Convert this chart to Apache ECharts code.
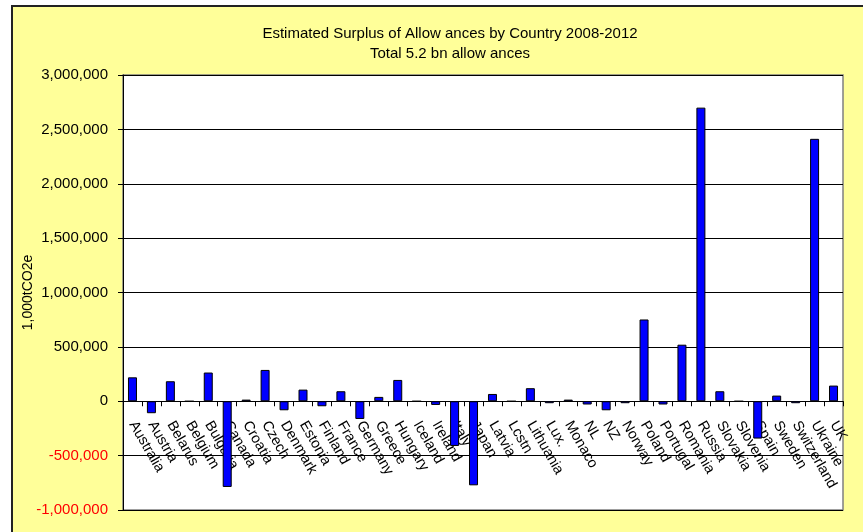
<!DOCTYPE html>
<html>
<head>
<meta charset="utf-8">
<script src="https://cdn.jsdelivr.net/npm/echarts@6/dist/echarts.min.js"></script>
<style>
html,body{margin:0;padding:0;background:#fff;}
#c{width:863px;height:532px;}
</style>
</head>
<body>
<div id="c"></div>
<script>
var countries = ["Australia","Austria","Belarus","Belgium","Bulgaria","Canada","Croatia","Czech","Denmark","Estonia","Finland","France","Germany","Greece","Hungary","Iceland","Ireland","Italy","Japan","Latvia","Lcstn","Lithuania","Lux.","Monaco","NL","NZ","Norway","Poland","Portugal","Romania","Russia","Slovakia","Slovenia","Spain","Sweden","Switzerland","Ukraine","UK"];
var surplus = [220000,-110000,184000,0,264000,-788000,15000,288000,-83000,107000,-46000,92000,-163000,40000,196000,0,-34000,-411000,-773000,67000,0,120000,-18000,15000,-30000,-83000,-18000,752000,-30000,520000,2700000,92000,0,-343000,52000,-18000,2413000,144000];
var titleLine1 = "Estimated Surplus of Allow ances by Country 2008-2012";
var titleLine2 = "Total 5.2 bn allow ances";
var yAxisName = "1,000tCO2e";
var yMin = -1000000, yMax = 3000000, yStep = 500000;

var FONT = '"Liberation Sans", Arial, sans-serif';
var GRID = {left: 123, right: 20, top: 75, bottom: 22};
var plotH = 532 - GRID.top - GRID.bottom;
var zeroOffset = -plotH * (0 - yMin) / (yMax - yMin);

var chart = echarts.init(document.getElementById('c'), null, {renderer:'canvas'});
chart.setOption({
  animation: false,
  backgroundColor: '#ffffff',
  graphic: [{
    type: 'rect', z: -100, silent: true,
    shape: {x: 12, y: 6, width: 870, height: 540},
    style: {fill: '#FFFF99', stroke: '#222', lineWidth: 2}
  }],
  title: [
    {text: titleLine1, left: 445, top: 21, textAlign: 'center',
     textStyle: {fontFamily: FONT, fontSize: 15, fontWeight: 'normal', color: '#000'}},
    {text: titleLine2, left: 445, top: 41, textAlign: 'center',
     textStyle: {fontFamily: FONT, fontSize: 15, fontWeight: 'normal', color: '#000'}}
  ],
  grid: {left: GRID.left, right: GRID.right, top: GRID.top, bottom: GRID.bottom, show: true,
         outerBoundsMode: 'none', containLabel: false,
         backgroundColor: '#ffffff', borderColor: '#808080', borderWidth: 1.5},
  xAxis: {
    type: 'category', data: countries, position: 'bottom', offset: zeroOffset, z: 1,
    axisLine: {onZero: false, lineStyle: {color: '#000', width: 1}},
    axisTick: {show: true, length: 5, lineStyle: {color: '#000'}},
    axisLabel: {rotate: -60, interval: 0, margin: 21, fontFamily: FONT, fontSize: 14.5, color: '#000',
                hideOverlap: false, overflow: 'none', width: 300},
    splitLine: {show: false}
  },
  yAxis: {
    type: 'value', min: yMin, max: yMax, interval: yStep, z: 1,
    name: yAxisName, nameLocation: 'middle', nameRotate: 90, nameGap: 88, nameMoveOverlap: false,
    nameTextStyle: {fontFamily: FONT, fontSize: 14, color: '#000'},
    axisLine: {show: true, onZero: false, lineStyle: {color: '#000', width: 1}},
    axisTick: {show: true, length: 5, lineStyle: {color: '#000'}},
    axisLabel: {margin: 15, fontFamily: FONT, fontSize: 15,
      color: function (v) { return Number(v) < 0 ? '#FF0000' : '#000000'; },
      formatter: function (v) { return v.toLocaleString('en-US'); }},
    splitLine: {show: true, lineStyle: {color: '#000', width: 1}}
  },
  series: [{
    type: 'bar', data: surplus, barWidth: 9, z: 5,
    itemStyle: {color: '#0000FF', borderColor: '#000', borderWidth: 1}
  }]
});
</script>
</body>
</html>
